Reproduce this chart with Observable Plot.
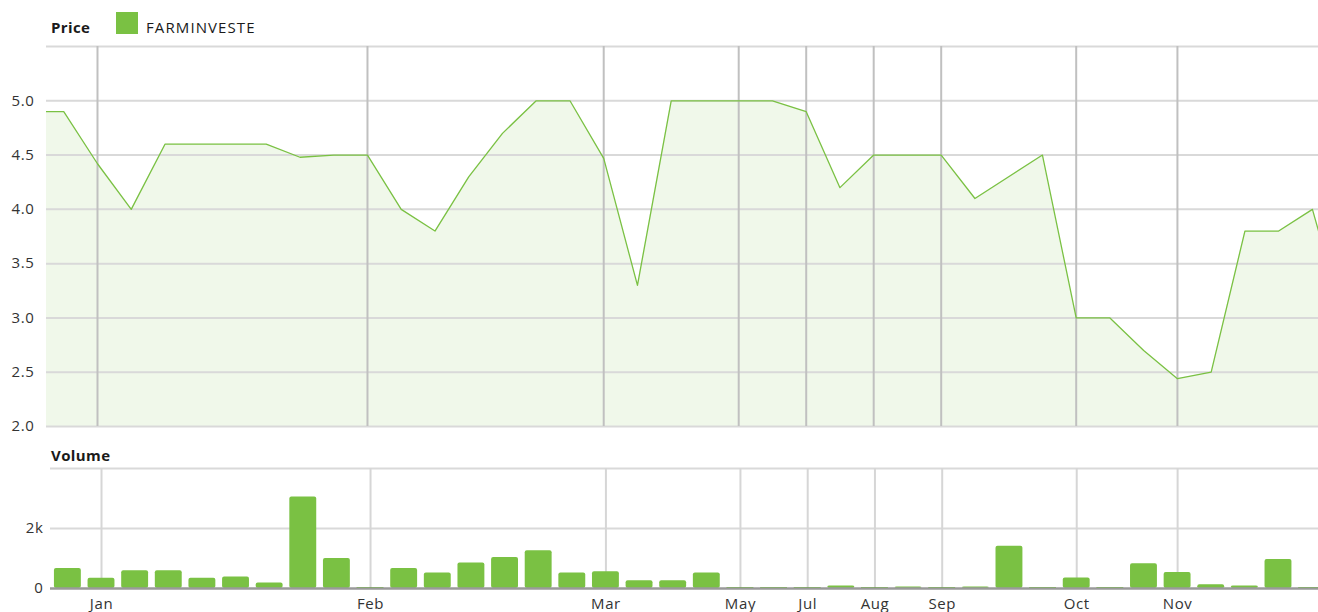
<!DOCTYPE html>
<html><head><meta charset="utf-8">
<script src="https://cdn.jsdelivr.net/npm/d3@7"></script>
<script src="https://cdn.jsdelivr.net/npm/@observablehq/plot@0.6"></script>
<style>
body{margin:0;background:#fff;font-family:"Open Sans",sans-serif;}
#wrap{position:relative;width:1318px;height:612px;overflow:hidden;}
.lbl{position:absolute;font-size:15px;line-height:16px;color:#1a1a1a;white-space:nowrap;letter-spacing:1.1px;}
.b{font-weight:700;letter-spacing:0.4px;}
#sw{position:absolute;left:116px;top:12px;width:22px;height:22px;background:#7ac143;}
#price,#volume{position:absolute;left:0;}
#price{top:0;}
#volume{top:440px;}
svg text{letter-spacing:0.6px;}
</style></head><body>
<div id="wrap">
  <div class="lbl b" style="left:51px;top:19px;">Price</div>
  <div id="sw"></div>
  <div class="lbl" style="left:146px;top:19px;">FARMINVESTE</div>
  <div class="lbl b" style="left:51px;top:447px;">Volume</div>
  <div id="price"></div>
  <div id="volume"></div>
</div>
<script>
// index of each trading point (0 and 39 lie partly outside the visible window)
const pointIndex = d3.range(0, 40);
const price = [4.9, 4.9, 4.42, 4.0, 4.6, 4.6, 4.6, 4.6, 4.48, 4.5,
               4.5, 4.0, 3.8, 4.3, 4.7, 5.0, 5.0, 4.47, 3.3, 5.0,
               5.0, 5.0, 5.0, 4.9, 4.2, 4.5, 4.5, 4.5, 4.1, 4.3,
               4.5, 3.0, 3.0, 2.7, 2.44, 2.5, 3.8, 3.8, 4.0, 2.9];
const volume = [0, 670, 340, 590, 590, 340, 385, 180, 3050, 1000,
                0, 670, 520, 850, 1030, 1255, 520, 555, 260, 260,
                520, 0, 0, 0, 80, 0, 50, 0, 50, 1410,
                0, 350, 0, 825, 530, 125, 80, 970, 0, 0];
const monthTickIndex = [2, 10, 17, 21, 23, 25, 27, 31, 34];
const monthTickLabels = ["Jan", "Feb", "Mar", "May", "Jul", "Aug", "Sep", "Oct", "Nov"];
const priceTicks = [2.0, 2.5, 3.0, 3.5, 4.0, 4.5, 5.0];
const priceGrid = [2.0, 2.5, 3.0, 3.5, 4.0, 4.5, 5.0, 5.5];
const volumeTicks = [0, 2000];
const volumeGrid = [2000, 4000];

const green = "#7ac143";
const font = {fontFamily: '"Open Sans", sans-serif', fontSize: "15px", color: "#333", background: "transparent", overflow: "hidden"};

const priceRows = pointIndex.map((i) => ({i, p: price[i]}));
const volRows = pointIndex.map((i) => ({i, v: volume[i]}));

const pricePlot = Plot.plot({
  width: 1318, height: 440,
  marginLeft: 46, marginRight: 0, marginTop: 46, marginBottom: 14,
  style: font,
  x: {domain: [0.489, 38.18], axis: null},
  y: {domain: [2, 5.5], ticks: priceTicks, tickFormat: d3.format(".1f"), tickSize: 0, tickPadding: 12, label: null},
  marks: [
    Plot.areaY(priceRows, {x: "i", y1: 2, y2: "p", fill: green, fillOpacity: 0.11, clip: true}),
    Plot.ruleY(priceGrid, {stroke: "#d9d9d9", strokeWidth: 2}),
    Plot.ruleX(monthTickIndex, {stroke: "#c0c0c0", strokeWidth: 2}),
    Plot.lineY(priceRows, {x: "i", y: "p", stroke: green, strokeWidth: 1.3, clip: true})
  ]
});
document.getElementById("price").appendChild(pricePlot);

const volumePlot = Plot.plot({
  width: 1318, height: 172,
  marginLeft: 50, marginRight: 0, marginTop: 28, marginBottom: 24,
  style: font,
  x: {domain: [0.483, 38.19], ticks: monthTickIndex, tickFormat: (d) => monthTickLabels[monthTickIndex.indexOf(d)], tickSize: 0, tickPadding: 10, label: null},
  y: {domain: [0, 4000], ticks: volumeTicks, tickFormat: (d) => d === 0 ? "0" : (d / 1000) + "k", tickSize: 0, tickPadding: 7, label: null},
  marks: [
    Plot.ruleY(volumeGrid, {stroke: "#d9d9d9", strokeWidth: 2}),
    Plot.ruleX(monthTickIndex, {stroke: "#d6d6d6", strokeWidth: 2}),
    Plot.rectY(volRows.filter((d) => d.v > 0), {x1: (d) => d.i - 0.4, x2: (d) => d.i + 0.4, y1: 0, y2: "v", fill: green, rx: 2, clip: true}),
    Plot.ruleY([0], {stroke: "#9a9a9a", strokeWidth: 2.5}),
    Plot.ruleY(volRows.filter((d) => d.v === 0), {y: 0, x1: (d) => d.i - 0.4, x2: (d) => d.i + 0.4, stroke: "#5e9e33", strokeWidth: 2, clip: true})
  ]
});
document.getElementById("volume").appendChild(volumePlot);
</script>
</body></html>
